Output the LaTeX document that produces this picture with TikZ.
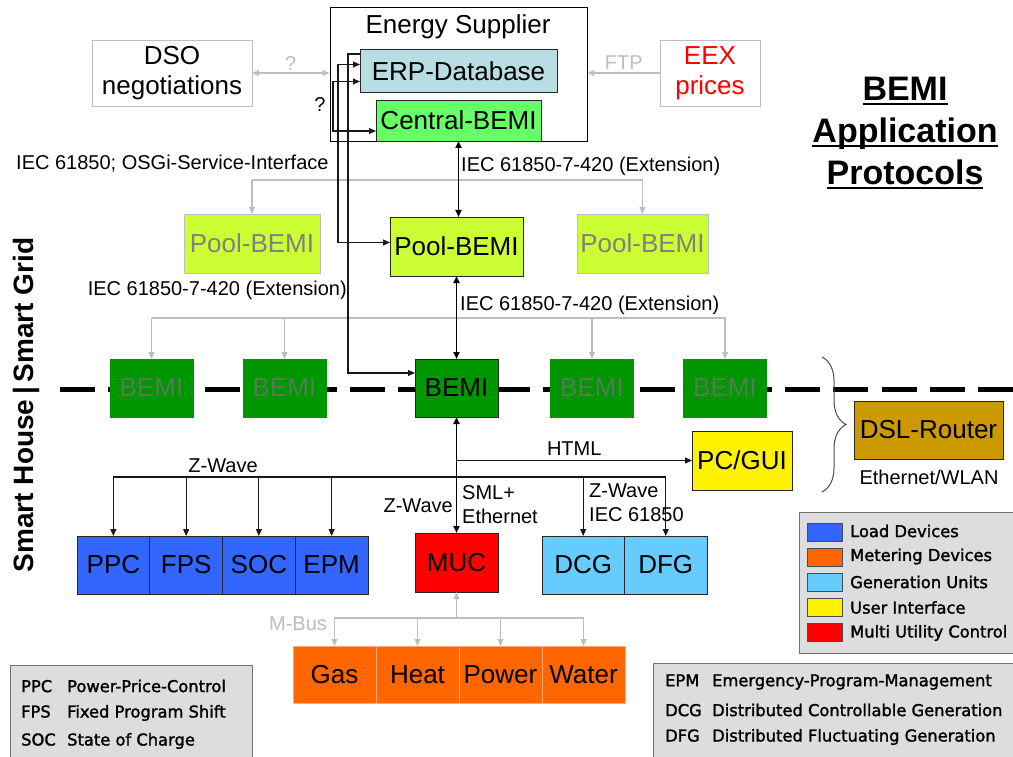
\documentclass[tikz,border=0pt]{standalone}
\usepackage{fontspec}
\setmainfont{Liberation Sans}
\newfontfamily\legendfont[FakeBold=1.6]{DejaVu Sans}
\usetikzlibrary{arrows.meta,calc,positioning,decorations.pathreplacing}

\definecolor{erpblue}{RGB}{184,221,226}
\definecolor{centralgreen}{RGB}{102,255,102}
\definecolor{poolgreen}{RGB}{204,255,51}
\definecolor{bemigreen}{RGB}{0,150,0}
\definecolor{dimtext}{RGB}{85,125,85}
\definecolor{loadblue}{RGB}{51,102,255}
\definecolor{genblue}{RGB}{102,204,255}
\definecolor{meterorange}{RGB}{255,102,0}
\definecolor{meteredge}{RGB}{255,170,120}
\definecolor{routerbrown}{RGB}{204,153,0}
\definecolor{linegray}{RGB}{190,190,190}
\definecolor{legendgray}{RGB}{221,221,221}

\newcommand{\bigfont}{\fontsize{26}{30}\selectfont}
\newcommand{\lblfont}{\fontsize{20}{24}\selectfont}
\newcommand{\keyfont}{\legendfont\fontsize{16.3}{18}\selectfont}
\newcommand{\titleline}[1]{\setbox0=\hbox{#1}\rlap{\rule[-5pt]{\wd0}{2.5pt}}\box0}

\tikzset{
  box/.style={draw=black!85,line width=0.9pt,inner sep=0pt,outer sep=0pt,font=\bigfont},
  dimbox/.style={box,draw=linegray,text=gray},
  link/.style={line width=1.1pt,draw=black!90},
  thicklink/.style={line width=1.8pt},
  graylink/.style={line width=1.2pt,draw=linegray},
  lbl/.style={font=\lblfont,inner sep=0pt},
  keybox/.style={draw=black!55,fill=legendgray,line width=1pt},
  keytext/.style={font=\keyfont,inner sep=0pt,anchor=west},
}

\begin{document}
\begin{tikzpicture}[x=1pt,y=-1pt,>={Triangle[length=7pt,width=6pt]}]
  \useasboundingbox[fill=white] (0,0) rectangle (1013,757);

  % separator between house and grid
  \draw[line width=5pt,dash pattern=on 35pt off 13.33pt] (60,389) -- (1013,389);
  \node[rotate=90,anchor=base,font=\bfseries\fontsize{28}{30}\selectfont] (sides) at (33,405)
     {Smart House\,|\,Smart Grid};

  % energy supplier
  \node[draw,line width=0.9pt,minimum width=257,minimum height=134,inner sep=0pt] (supplier) at (458.5,74.5) {};
  \node[font=\bigfont] (suppliertitle) at (458,27) {Energy Supplier};
  \node[box,fill=erpblue,minimum width=197,minimum height=43] (erp) at (458.5,71) {ERP-Database};
  \node[box,fill=centralgreen,minimum width=165,minimum height=41] (central) at (458.5,120.5) {Central-BEMI};
  \node[box,draw=linegray,minimum width=160,minimum height=66,align=center] (dso) at (172,73) {DSO\\negotiations};
  \node[box,draw=linegray,text=red,minimum width=100,minimum height=66,align=center] (eex) at (710,73) {EEX\\prices};
  \node[font=\bfseries\fontsize{34}{42}\selectfont,align=center] (title) at (905,133)
     {\titleline{BEMI}\\\titleline{Application}\\\titleline{Protocols}};

  \draw[graylink,<->] (dso.east) -- (dso.east -| supplier.west)
     node[midway,above=2pt,lbl,text=linegray] (dsoq) {?};
  \draw[graylink,->] (eex.west) -- (eex.west -| supplier.east)
     node[midway,above=3pt,lbl,text=linegray] (ftp) {FTP};
  \node[lbl] (erpq) at (320,105) {?};

  % pools
  \node[dimbox,fill=poolgreen,minimum width=136,minimum height=59] (poolleft) at (252,243.5) {Pool-BEMI};
  \node[box,fill=poolgreen,minimum width=133,minimum height=59] (pool) at (456.5,246.5) {Pool-BEMI};
  \node[dimbox,fill=poolgreen,minimum width=131,minimum height=59] (poolright) at (642.5,243.5) {Pool-BEMI};

  \node[lbl,anchor=west] (osgi) at (16,164) {IEC 61850; OSGi-Service-Interface};
  \node[lbl,anchor=west] (extupper) at (461,166) {IEC 61850-7-420 (Extension)};
  \node[lbl,anchor=east] (extleft) at (347,290) {IEC 61850-7-420 (Extension)};
  \node[lbl,anchor=west] (extlower) at (460,305) {IEC 61850-7-420 (Extension)};

  \draw[graylink,->] (poolleft.north) ++(0,-34) -| (poolright.north);
  \draw[graylink,->] ([yshift=34pt]poolleft.north) -- (poolleft.north);
  \draw[thicklink,<->] (central.south) -- (central.south |- pool.north);

  % BEMIs on the line
  \node[box,draw=bemigreen,fill=bemigreen,text=dimtext,minimum width=83,minimum height=58] (bemi1) at (151.5,388) {BEMI};
  \node[box,draw=bemigreen,fill=bemigreen,text=dimtext,minimum width=83,minimum height=58] (bemi2) at (284.5,388) {BEMI};
  \node[box,fill=bemigreen,minimum width=83,minimum height=58] (bemi) at (456.5,388) {BEMI};
  \node[box,draw=bemigreen,fill=bemigreen,text=dimtext,minimum width=83,minimum height=58] (bemi3) at (592,388) {BEMI};
  \node[box,draw=bemigreen,fill=bemigreen,text=dimtext,minimum width=83,minimum height=58] (bemi4) at (725,388) {BEMI};

  \draw[graylink,->] (bemi1.north) ++(0,-41) -| (bemi4.north);
  \foreach \b in {bemi1,bemi2,bemi3}
    \draw[graylink,->] ([yshift=41pt]\b.north) -- (\b.north);
  \draw[thicklink,<->] (pool.south) -- (bemi.north);

  % links from the ERP-Database
  \draw[link,->] ([yshift=-4.5pt]erp.north west) -- ++(-12,0) |- ([yshift=-14pt]bemi.north west);
  \draw[link,<->] ([yshift=-15pt]erp.north west) -- ++(-22,0) |- ([yshift=4pt]pool.west);
  \draw[link,<->] ([yshift=-32pt]erp.north west) -- ++(-27,0) |- ([yshift=-10.5pt]central.west);

  % router
  \node[box,fill=routerbrown,minimum width=149,minimum height=58] (router) at (928.5,430) {DSL-Router};
  \node[lbl] (wlan) at (929,477) {Ethernet/WLAN};
  \draw[black!70,line width=1pt,decorate,decoration={brace,amplitude=24pt}] (822,357) -- (822,492);

  % house devices
  \node[box,fill=yellow,minimum width=100,minimum height=59] (pcgui) at (742,460.5) {PC/GUI};
  \node[box,fill=loadblue,minimum width=72.75,minimum height=58] (ppc) at (113.4,565) {PPC};
  \node[box,fill=loadblue,minimum width=72.75,minimum height=58,right=0pt of ppc] (fps) {FPS};
  \node[box,fill=loadblue,minimum width=72.75,minimum height=58,right=0pt of fps] (soc) {SOC};
  \node[box,fill=loadblue,minimum width=72.75,minimum height=58,right=0pt of soc] (epm) {EPM};
  \node[box,fill=red,minimum width=83,minimum height=59] (muc) at (456.5,562.5) {MUC};
  \node[box,fill=genblue,minimum width=82.5,minimum height=58] (dcg) at (583.25,565) {DCG};
  \node[box,fill=genblue,minimum width=82.5,minimum height=58,right=0pt of dcg] (dfg) {DFG};

  \draw[thicklink,<->] (bemi.south) -- (muc.north);
  \draw[link,->] (bemi.south |- pcgui.west) -- (pcgui.west)
     node[midway,above=4pt,lbl] (html) {HTML};
  \coordinate (zwave) at ($(bemi.south)+(0,60)$);
  \draw[link,->] (zwave) -| (ppc.north);
  \draw[link,->] (zwave) -| (dfg.north);
  \foreach \n in {fps,soc,epm,dcg}
    \draw[link,->] (zwave -| \n.north) -- (\n.north);
  \node[lbl] (zwaveload) at (223,466) {Z-Wave};
  \node[lbl,anchor=east] (zwavemuc) at (453,506) {Z-Wave};
  \node[lbl,anchor=west,align=left] (sml) at (462,505) {SML+\\Ethernet};
  \node[lbl,anchor=west,align=left] (zwavegen) at (589,503) {Z-Wave\\IEC 61850};

  % metering
  \node[box,draw=meteredge,fill=meterorange,minimum width=83,minimum height=57] (gas) at (334.5,674.5) {Gas};
  \node[box,draw=meteredge,fill=meterorange,minimum width=83,minimum height=57,right=0pt of gas] (heat) {Heat};
  \node[box,draw=meteredge,fill=meterorange,minimum width=83,minimum height=57,right=0pt of heat] (power) {Power};
  \node[box,draw=meteredge,fill=meterorange,minimum width=83,minimum height=57,right=0pt of power] (water) {Water};
  \coordinate (mbus) at ($(muc.south)+(0,26)$);
  \draw[graylink,->] (mbus) -- (muc.south);
  \draw[graylink,->] (mbus) -| (gas.north);
  \draw[graylink,->] (mbus) -| (water.north);
  \foreach \n in {heat,power}
    \draw[graylink,->] (mbus -| \n.north) -- (\n.north);
  \node[lbl,text=linegray] (mbuslabel) at (298,624) {M-Bus};

  % legends
  \node[keybox,minimum width=242,minimum height=100,anchor=north west] (keyleft) at (10,665) {};
  \node[keytext] (ppcdef) at (21,686) {\makebox[46pt][l]{PPC}Power-Price-Control};
  \node[keytext] (fpsdef) at (21,713) {\makebox[46pt][l]{FPS}Fixed Program Shift};
  \node[keytext] (socdef) at (21,741) {\makebox[46pt][l]{SOC}State of Charge};

  \node[keybox,minimum width=370,minimum height=94,anchor=north west] (keyright) at (653,663) {};
  \node[keytext] (epmdef) at (665,682) {\makebox[47pt][l]{EPM}Emergency-Program-Management};
  \node[keytext] (dcgdef) at (665,710) {\makebox[47pt][l]{DCG}Distributed Controllable Generation};
  \node[keytext] (dfgdef) at (665,737) {\makebox[47pt][l]{DFG}Distributed Fluctuating Generation};

  \node[keybox,minimum width=224,minimum height=141,anchor=north west] (keycolour) at (799,512) {};
  \foreach \c/\t [count=\i from 0] in {loadblue/Load Devices,meterorange/Metering Devices,
      genblue/Generation Units,yellow/User Interface,red/Multi Utility Control} {
    \node[draw=black!70,line width=0.8pt,fill=\c,minimum width=35,minimum height=18,inner sep=0pt]
       (swatch\i) at (824.5,532+25*\i) {};
    \node[keytext] (swatchtext\i) at (850,531+25.5*\i) {\t};
  }
\end{tikzpicture}
\end{document}
